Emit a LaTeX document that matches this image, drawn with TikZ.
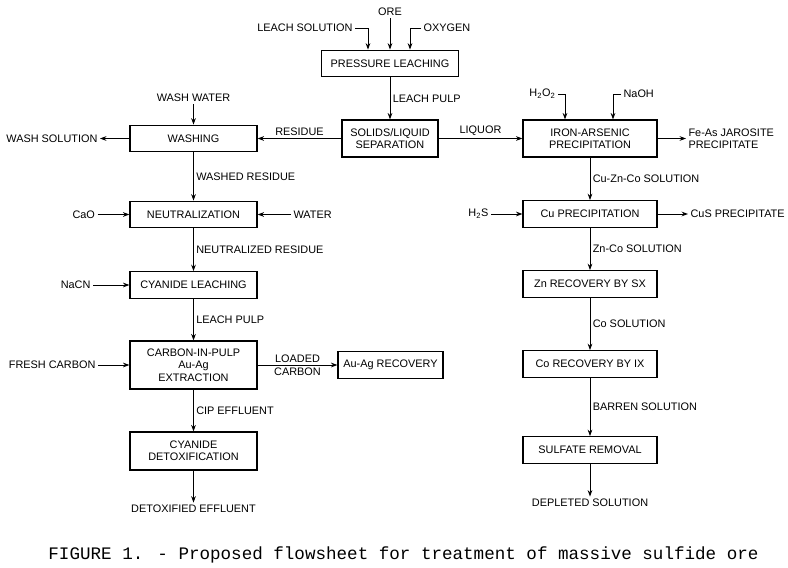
\documentclass[tikz,border=0pt]{standalone}
\usepackage{fontspec}
\setmainfont{Liberation Sans}
\newfontfamily\figcapfont{Liberation Mono}
\usepackage{tikz}
\usetikzlibrary{arrows.meta}
\newcommand{\flowfont}{\fontsize{9.3}{10.6}\selectfont}
\tikzstyle{unit} = [draw, rectangle, line width=1pt, minimum width=3.81cm, minimum height=0.8cm, align=center, font=\flowfont, inner sep=1pt]
\tikzstyle{stream} = [font=\flowfont, inner sep=2pt, align=left]
\tikzstyle{arrow} = [line width=0.75pt, ->, >={Stealth[length=5.5pt,width=4pt]}]

\begin{document}
\begin{tikzpicture}[x=0.03cm, y=-0.03cm]
    \useasboundingbox (0,0) rectangle (788,568);

    % Pressure leaching and separation
    \node (press) [unit, minimum width=4.11cm] at (390,63.5) {PRESSURE LEACHING};
    \node (sep) [unit, minimum width=2.88cm, minimum height=1.11cm] at (390,138.5) {SOLIDS/LIQUID\\SEPARATION};

    % Residue train
    \node (wash) [unit] at (193.5,138.5) {WASHING};
    \node (neut) [unit] at (193.5,214.5) {NEUTRALIZATION};
    \node (cnleach) [unit] at (193.5,285) {CYANIDE LEACHING};
    \node (cip) [unit, minimum height=1.44cm] at (193.5,365) {CARBON-IN-PULP\\Au-Ag\\EXTRACTION};
    \node (detox) [unit, minimum height=1.14cm] at (193.5,451) {CYANIDE\\DETOXIFICATION};
    \node (auag) [unit, minimum width=3.15cm] at (390.5,365) {Au-Ag RECOVERY};

    % Liquor train
    \node (ironas) [unit, minimum width=4.02cm, minimum height=1.11cm] at (590,138.5) {IRON-ARSENIC\\PRECIPITATION};
    \node (cuppt) [unit, minimum width=4.02cm] at (590,214) {Cu PRECIPITATION};
    \node (znsx) [unit, minimum width=4.02cm] at (590,284) {Zn RECOVERY BY SX};
    \node (coix) [unit, minimum width=4.02cm] at (590,364) {Co RECOVERY BY IX};
    \node (sulfate) [unit, minimum width=4.02cm] at (590,450) {SULFATE REMOVAL};

    % Feeds and products
    \node (ore) [stream] at (390,12) {ORE};
    \node (leachsol) [stream, anchor=east] at (355,28) {LEACH SOLUTION};
    \node (oxygen) [stream, anchor=west] at (421,28) {OXYGEN};
    \coordinate (leachin) at (368,28);
    \coordinate (oxyin) at (410,28);
    \node (washwater) [stream] at (193.5,98) {WASH WATER};
    \node (washsol) [stream, anchor=east] at (100,138.5) {WASH SOLUTION};
    \node (cao) [stream, anchor=east] at (97.5,214.5) {CaO};
    \node (water) [stream, anchor=west] at (291,214.5) {WATER};
    \node (nacn) [stream, anchor=east] at (93,285) {NaCN};
    \node (freshc) [stream, anchor=east] at (98,365) {FRESH CARBON};
    \node (detoxout) [stream] at (193.5,509) {DETOXIFIED EFFLUENT};
    \node (peroxide) [stream, anchor=east] at (558,94) {H\textsubscript{2}O\textsubscript{2}};
    \node (naoh) [stream, anchor=west] at (621,94) {NaOH};
    \coordinate (peroxin) at (565,94);
    \coordinate (naohin) at (613,94);
    \node (jarosite) [stream, anchor=west] at (686,138.5) {Fe-As JAROSITE\\PRECIPITATE};
    \node (h2s) [stream, anchor=east] at (491,214) {H\textsubscript{2}S};
    \node (cus) [stream, anchor=west] at (688,214) {CuS PRECIPITATE};
    \node (depleted) [stream] at (590,503) {DEPLETED SOLUTION};

    % Caption
    \node (caption) [font={\figcapfont\fontsize{15}{18}\selectfont}] at (403.5,555) {FIGURE 1. - Proposed flowsheet for treatment of massive sulfide ore};

    % Connections
    \draw [arrow] (ore) -- (ore |- press.north);
    \draw [arrow] (leachsol.east) -| (leachin |- press.north);
    \draw [arrow] (oxygen.west) -| (oxyin |- press.north);
    \draw [arrow] (press) -- node[stream, right] {LEACH PULP} (sep);
    \draw [arrow] (sep) -- node[stream, above] {RESIDUE} (wash);
    \draw [arrow] (sep) -- node[stream, above] {LIQUOR} (ironas);

    \draw [arrow] (wash) -- (washsol);
    \draw [arrow] (washwater) -- (wash);
    \draw [arrow] (wash) -- node[stream, right] {WASHED RESIDUE} (neut);
    \draw [arrow] (cao) -- (neut);
    \draw [arrow] (water) -- (neut);
    \draw [arrow] (neut) -- node[stream, right] {NEUTRALIZED RESIDUE} (cnleach);
    \draw [arrow] (nacn) -- (cnleach);
    \draw [arrow] (cnleach) -- node[stream, right] {LEACH PULP} (cip);
    \draw [arrow] (freshc) -- (cip);
    \draw [arrow] (cip) -- node[stream, above] {LOADED} node[stream, below] {CARBON} (auag);
    \draw [arrow] (cip) -- node[stream, right] {CIP EFFLUENT} (detox);
    \draw [arrow] (detox) -- (detoxout);

    \draw [arrow] (peroxide.east) -| (peroxin |- ironas.north);
    \draw [arrow] (naoh.west) -| (naohin |- ironas.north);
    \draw [arrow] (ironas) -- (jarosite);
    \draw [arrow] (ironas) -- node[stream, right] {Cu-Zn-Co SOLUTION} (cuppt);
    \draw [arrow] (h2s) -- (cuppt);
    \draw [arrow] (cuppt) -- (cus);
    \draw [arrow] (cuppt) -- node[stream, right] {Zn-Co SOLUTION} (znsx);
    \draw [arrow] (znsx) -- node[stream, right] {Co SOLUTION} (coix);
    \draw [arrow] (coix) -- node[stream, right] {BARREN SOLUTION} (sulfate);
    \draw [arrow] (sulfate) -- (depleted);
\end{tikzpicture}
\end{document}
